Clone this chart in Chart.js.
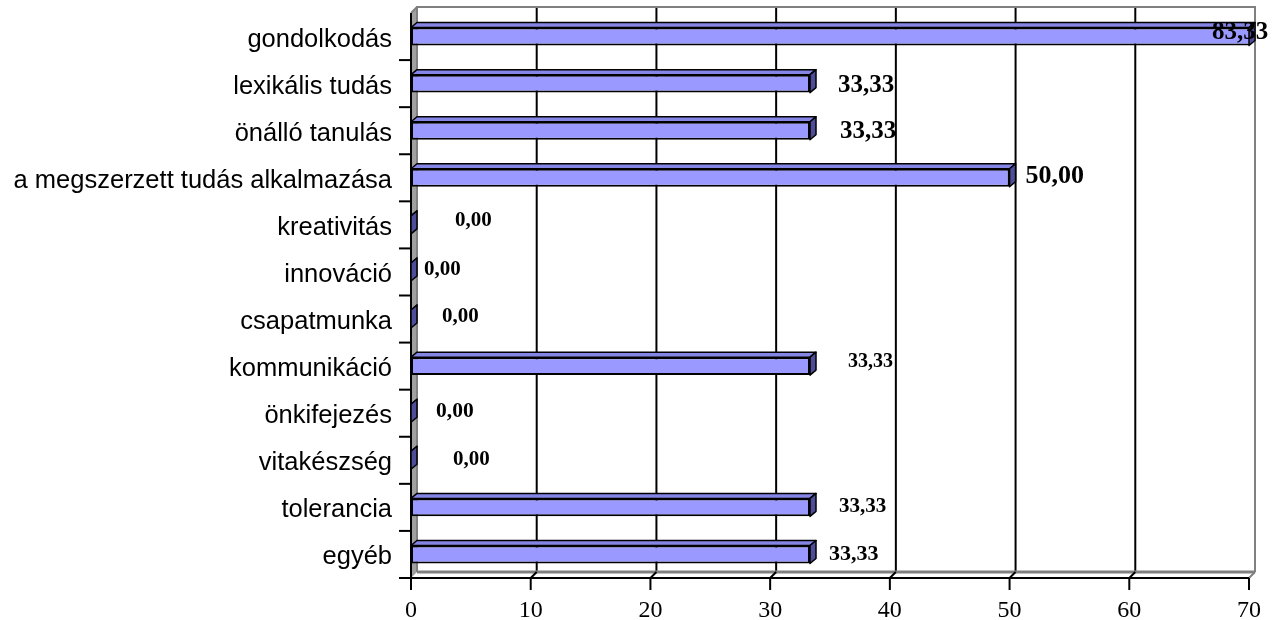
<!DOCTYPE html>
<html><head><meta charset="utf-8">
<script src="https://cdn.jsdelivr.net/npm/chart.js@4.4.0/dist/chart.umd.min.js"></script>
<style>html,body{margin:0;padding:0;background:#fff;overflow:hidden}#wrap{width:1285px;height:620px}</style>
</head><body><div id="wrap"><canvas id="c" width="1285" height="620"></canvas></div>
<script>
// ---- data ----
const categories = ['gondolkodás','lexikális tudás','önálló tanulás','a megszerzett tudás alkalmazása','kreativitás','innováció','csapatmunka','kommunikáció','önkifejezés','vitakészség','tolerancia','egyéb'];
const values = [83.33, 33.33, 33.33, 50.00, 0, 0, 0, 33.33, 0, 0, 33.33, 33.33];
const xTicks = [0, 10, 20, 30, 40, 50, 60, 70];

// ---- label styling (pixel offsets / sizes, not data) ----
const labelDx = [-37, 28, 30, 16, 44, 13, 31, 38, 25, 42, 29, 19];
const labelDy = [-5.5, 0, -1, -4, -6, -4, -4, -6, -3, -2, -2, -1.5];
const labelSize = [25, 25, 25, 26, 21, 21, 21, 20, 21.5, 21, 21, 22];

const WX = 6, WY = -6;   // wall depth
const BX = 6, BY = -5;   // bar depth
const fmt = v => v.toFixed(2).replace('.', ',');

function line(ctx, x1, y1, x2, y2) { ctx.beginPath(); ctx.moveTo(x1, y1); ctx.lineTo(x2, y2); ctx.stroke(); }
function poly(ctx, pts, fill) {
  ctx.beginPath(); ctx.moveTo(pts[0][0], pts[0][1]);
  for (let i = 1; i < pts.length; i++) ctx.lineTo(pts[i][0], pts[i][1]);
  ctx.closePath(); ctx.fillStyle = fill; ctx.fill(); ctx.stroke();
}

const threeD = {
  id: 'threeD',
  beforeDatasetsDraw(chart) {
    const { ctx, chartArea: a, scales: { x, y } } = chart;
    ctx.save();
    // left wall
    ctx.fillStyle = '#A0A0A0';
    ctx.beginPath();
    ctx.moveTo(a.left, a.top); ctx.lineTo(a.left + WX, a.top + WY);
    ctx.lineTo(a.left + WX, a.bottom + WY); ctx.lineTo(a.left, a.bottom);
    ctx.closePath(); ctx.fill();
    // back wall grid lines
    ctx.strokeStyle = '#000'; ctx.lineWidth = 2;
    xTicks.forEach(v => {
      if (v === xTicks[0] || v === xTicks[xTicks.length - 1]) return;
      const px = x.getPixelForValue(v) + WX;
      line(ctx, px, a.top + WY, px, a.bottom + WY);
    });
    // back wall border + floor back edge
    ctx.strokeStyle = '#808080'; ctx.lineWidth = 2;
    ctx.beginPath();
    ctx.moveTo(a.left + WX, a.bottom + WY);
    ctx.lineTo(a.left + WX, a.top + WY);
    ctx.lineTo(a.right + WX, a.top + WY);
    ctx.lineTo(a.right + WX, a.bottom + WY);
    ctx.stroke();
    ctx.lineWidth = 3;
    line(ctx, a.left + WX, a.bottom + WY, a.right + WX, a.bottom + WY);
    ctx.lineWidth = 2;
    line(ctx, a.right, a.bottom, a.right + WX, a.bottom + WY);
    line(ctx, a.left, a.top, a.left + WX, a.top + WY);
    // floor grid diagonals
    ctx.strokeStyle = '#000';
    xTicks.forEach(v => {
      if (v === xTicks[0] || v === xTicks[xTicks.length - 1]) return;
      const px = x.getPixelForValue(v);
      line(ctx, px, a.bottom, px + WX, a.bottom + WY);
    });
    // front axes
    ctx.lineWidth = 2;
    line(ctx, a.left, a.top, a.left, a.bottom);
    line(ctx, a.left - 12, a.bottom, a.right, a.bottom);
    xTicks.forEach(v => {
      const px = x.getPixelForValue(v);
      line(ctx, px, a.bottom, px, a.bottom + 12);
    });
    for (let k = 1; k < categories.length; k++) {
      const py = y.getPixelForValue(k - 0.5);
      line(ctx, a.left - 12, py, a.left, py);
    }
    ctx.restore();
  },
  afterDatasetsDraw(chart) {
    const { ctx, chartArea: a } = chart;
    const meta = chart.getDatasetMeta(0);
    ctx.save();
    ctx.strokeStyle = '#000'; ctx.lineWidth = 1.5; ctx.lineJoin = 'round';
    meta.data.forEach(el => {
      const p = el.getProps(['x', 'y', 'base', 'height'], true);
      const xe = Math.min(p.x, a.right);
      const top = p.y - p.height / 2, bot = p.y + p.height / 2;
      poly(ctx, [[p.base, top], [p.base + BX, top + BY], [xe + BX, top + BY], [xe, top]], '#8585E6');
      poly(ctx, [[xe, top], [xe + BX, top + BY], [xe + BX, bot + BY], [xe, bot]], '#4D4D99');
    });
    ctx.restore();
  },
  afterDraw(chart) {
    const { ctx, chartArea: a } = chart;
    const meta = chart.getDatasetMeta(0);
    ctx.save();
    ctx.fillStyle = '#000'; ctx.textAlign = 'left'; ctx.textBaseline = 'alphabetic';
    meta.data.forEach((el, i) => {
      const xe = Math.min(el.x, a.right);
      ctx.font = 'bold ' + labelSize[i] + 'px "Liberation Serif", "Times New Roman", serif';
      ctx.fillText(fmt(values[i]), xe + labelDx[i], el.y + labelDy[i] + 0.338 * labelSize[i]);
    });
    ctx.restore();
  }
};

Chart.defaults.font.family = '"Liberation Sans", Arial, sans-serif';
Chart.defaults.color = '#000';

new Chart(document.getElementById('c'), {
  type: 'bar',
  data: {
    labels: categories,
    datasets: [{
      data: values,
      backgroundColor: '#9999FF',
      borderColor: '#000',
      borderWidth: 2,
      borderSkipped: false,
      barPercentage: 0.382,
      categoryPercentage: 1
    }]
  },
  options: {
    indexAxis: 'y',
    responsive: false,
    animation: false,
    devicePixelRatio: 1,
    layout: { padding: { top: 13, right: 36, left: 0, bottom: 0 } },
    plugins: { legend: { display: false }, tooltip: { enabled: false } },
    scales: {
      x: {
        min: 0, max: 70,
        afterBuildTicks: s => { s.ticks = xTicks.map(v => ({ value: v })); },
        grid: { display: false, drawTicks: false },
        border: { display: false },
        ticks: { padding: 18, maxRotation: 0, color: '#000', font: { family: '"Liberation Serif", "Times New Roman", serif', size: 24 } },
        afterFit: s => { s.height = 42; s.paddingLeft = 0; s.paddingRight = 0; }
      },
      y: {
        grid: { display: false, drawTicks: false },
        border: { display: false },
        ticks: { padding: 19, labelOffset: 3, autoSkip: false, color: '#000', font: { size: 25.5 } },
        afterFit: s => { s.width = 411; s.paddingTop = 0; s.paddingBottom = 0; }
      }
    }
  },
  plugins: [threeD]
});
</script>
</body></html>
